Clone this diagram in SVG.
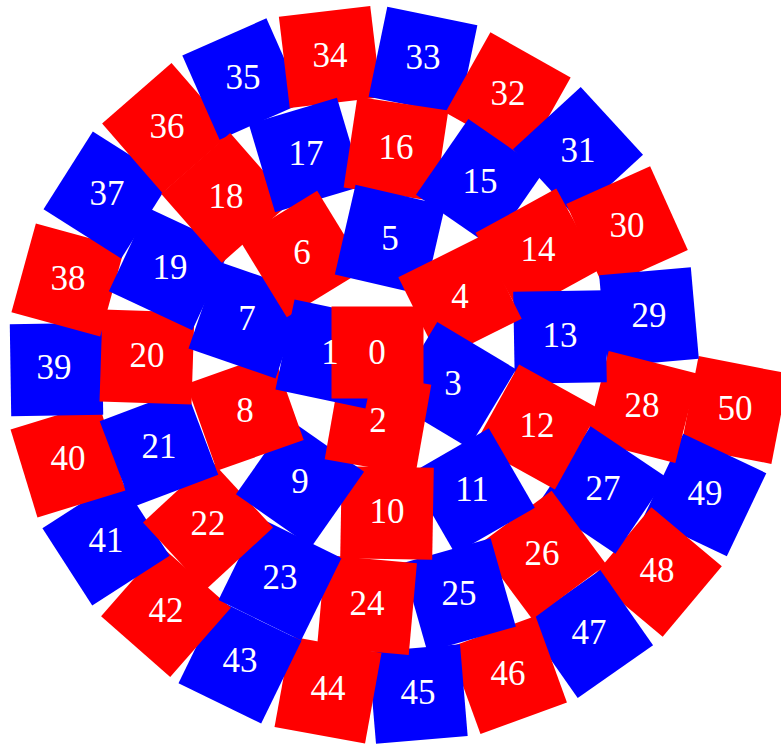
<svg xmlns="http://www.w3.org/2000/svg" xmlns:xlink="http://www.w3.org/1999/xlink" width="781" height="745" viewBox="0 0 781 745">
<style>
.r{fill:#ff0000}
.b{fill:#0000ff}
text{fill:#ffffff;font-family:"Liberation Serif","Times New Roman",serif;font-size:35px;text-anchor:middle}
</style>
<defs><rect id="sq" x="-46" y="-46" width="92" height="92"/></defs>
<rect width="781" height="745" fill="#ffffff"/>
<g id="nodes">
<g id="node50"><use href="#sq" class="r" transform="translate(735,410) rotate(11)"/></g>
<g id="node49"><use href="#sq" class="b" transform="translate(705,495) rotate(25.4)"/></g>
<g id="node48"><use href="#sq" class="r" transform="translate(657,572) rotate(40)"/></g>
<g id="node47"><use href="#sq" class="b" transform="translate(589,634) rotate(-35)"/></g>
<g id="node46"><use href="#sq" class="r" transform="translate(508,675) rotate(-20)"/></g>
<g id="node45"><use href="#sq" class="b" transform="translate(418,694) rotate(-4.8)"/></g>
<g id="node44"><use href="#sq" class="r" transform="translate(328,690) rotate(10.3)"/></g>
<g id="node43"><use href="#sq" class="b" transform="translate(240,662) rotate(26)"/></g>
<g id="node42"><use href="#sq" class="r" transform="translate(166,612) rotate(41.3)"/></g>
<g id="node41"><use href="#sq" class="b" transform="translate(106,542) rotate(-32.8)"/></g>
<g id="node40"><use href="#sq" class="r" transform="translate(68,460) rotate(-17)"/></g>
<g id="node39"><use href="#sq" class="b" transform="translate(56.5,369.5) rotate(-0.9)"/></g>
<g id="node38"><use href="#sq" class="r" transform="translate(68,280) rotate(15.4)"/></g>
<g id="node37"><use href="#sq" class="b" transform="translate(107,195) rotate(32.4)"/></g>
<g id="node36"><use href="#sq" class="r" transform="translate(167,128) rotate(49)"/></g>
<g id="node35"><use href="#sq" class="b" transform="translate(243,79) rotate(-23.9)"/></g>
<g id="node34"><use href="#sq" class="r" transform="translate(330,57) rotate(-6.8)"/></g>
<g id="node33"><use href="#sq" class="b" transform="translate(423,61) rotate(11.7)"/></g>
<g id="node32"><use href="#sq" class="r" transform="translate(508,95) rotate(29.3)"/></g>
<g id="node31"><use href="#sq" class="b" transform="translate(578,152) rotate(-42.6)"/></g>
<g id="node30"><use href="#sq" class="r" transform="translate(627,227) rotate(-24.2)"/></g>
<g id="node29"><use href="#sq" class="b" transform="translate(649,317) rotate(-5)"/></g>
<g id="node28"><use href="#sq" class="r" transform="translate(642,407) rotate(14.2)"/></g>
<g id="node27"><use href="#sq" class="b" transform="translate(603,490) rotate(34)"/></g>
<g id="node26"><use href="#sq" class="r" transform="translate(542,555) rotate(-36.5)"/></g>
<g id="node25"><use href="#sq" class="b" transform="translate(459,595) rotate(-15.9)"/></g>
<g id="node24"><use href="#sq" class="r" transform="translate(367,605) rotate(5.1)"/></g>
<g id="node23"><use href="#sq" class="b" transform="translate(280,579) rotate(26.1)"/></g>
<g id="node22"><use href="#sq" class="r" transform="translate(208,525) rotate(47.3)"/></g>
<g id="node21"><use href="#sq" class="b" transform="translate(159,448) rotate(-20.7)"/></g>
<g id="node20"><use href="#sq" class="r" transform="translate(147,357) rotate(1.9)"/></g>
<g id="node19"><use href="#sq" class="b" transform="translate(170,269) rotate(25)"/></g>
<g id="node18"><use href="#sq" class="r" transform="translate(226,198) rotate(48.7)"/></g>
<g id="node17"><use href="#sq" class="b" transform="translate(306,155) rotate(-16.6)"/></g>
<g id="node16"><use href="#sq" class="r" transform="translate(396,149) rotate(8.6)"/></g>
<g id="node15"><use href="#sq" class="b" transform="translate(480,183) rotate(34.7)"/></g>
<g id="node14"><use href="#sq" class="r" transform="translate(538,251) rotate(-28.7)"/></g>
<g id="node13"><use href="#sq" class="b" transform="translate(560,337) rotate(-1)"/></g>
<g id="node12"><use href="#sq" class="r" transform="translate(537,427) rotate(29)"/></g>
<g id="node11"><use href="#sq" class="b" transform="translate(472,491) rotate(-30)"/></g>
<g id="node10"><use href="#sq" class="r" transform="translate(387,513) rotate(1)"/></g>
<g id="node9"><use href="#sq" class="b" transform="translate(300,483) rotate(35)"/></g>
<g id="node8"><use href="#sq" class="r" transform="translate(245,412) rotate(-19.5)"/></g>
<g id="node7"><use href="#sq" class="b" transform="translate(247,320) rotate(19)"/></g>
<g id="node6"><use href="#sq" class="r" transform="translate(302,254) rotate(-31.5)"/></g>
<g id="node5"><use href="#sq" class="b" transform="translate(390,240) rotate(13)"/></g>
<g id="node4"><use href="#sq" class="r" transform="translate(460,298) rotate(-26.5)"/></g>
<g id="node3"><use href="#sq" class="b" transform="translate(453,385) rotate(31)"/></g>
<g id="node2"><use href="#sq" class="r" transform="translate(378,422) rotate(10)"/></g>
<g id="node1"><use href="#sq" class="b" transform="translate(330,354) rotate(12)"/></g>
<g id="node0"><use href="#sq" class="r" transform="translate(377.5,352.5)"/></g>
</g>
<g id="labels">
<text x="735" y="420">50</text>
<text x="705" y="505">49</text>
<text x="657" y="582">48</text>
<text x="589" y="644">47</text>
<text x="508" y="685">46</text>
<text x="418" y="704">45</text>
<text x="328" y="700">44</text>
<text x="240" y="672">43</text>
<text x="166" y="622">42</text>
<text x="106" y="552">41</text>
<text x="68" y="470">40</text>
<text x="54" y="379">39</text>
<text x="68" y="290">38</text>
<text x="107" y="205">37</text>
<text x="167" y="138">36</text>
<text x="243" y="89">35</text>
<text x="330" y="67">34</text>
<text x="423" y="69">33</text>
<text x="508" y="105">32</text>
<text x="578" y="162">31</text>
<text x="627" y="237">30</text>
<text x="649" y="327">29</text>
<text x="642" y="417">28</text>
<text x="603" y="500">27</text>
<text x="542" y="565">26</text>
<text x="459" y="605">25</text>
<text x="367" y="615">24</text>
<text x="280" y="589">23</text>
<text x="208" y="535">22</text>
<text x="159" y="458">21</text>
<text x="147" y="367">20</text>
<text x="170" y="279">19</text>
<text x="226" y="208">18</text>
<text x="306" y="165">17</text>
<text x="396" y="159">16</text>
<text x="480" y="193">15</text>
<text x="538" y="261">14</text>
<text x="560" y="347">13</text>
<text x="537" y="437">12</text>
<text x="472" y="501">11</text>
<text x="387" y="523">10</text>
<text x="300" y="493">9</text>
<text x="245" y="422">8</text>
<text x="247" y="330">7</text>
<text x="302" y="264">6</text>
<text x="390" y="250">5</text>
<text x="460" y="308">4</text>
<text x="453" y="395">3</text>
<text x="378" y="432">2</text>
<text x="330" y="364">1</text>
<text x="377" y="364">0</text>
</g>
</svg>
